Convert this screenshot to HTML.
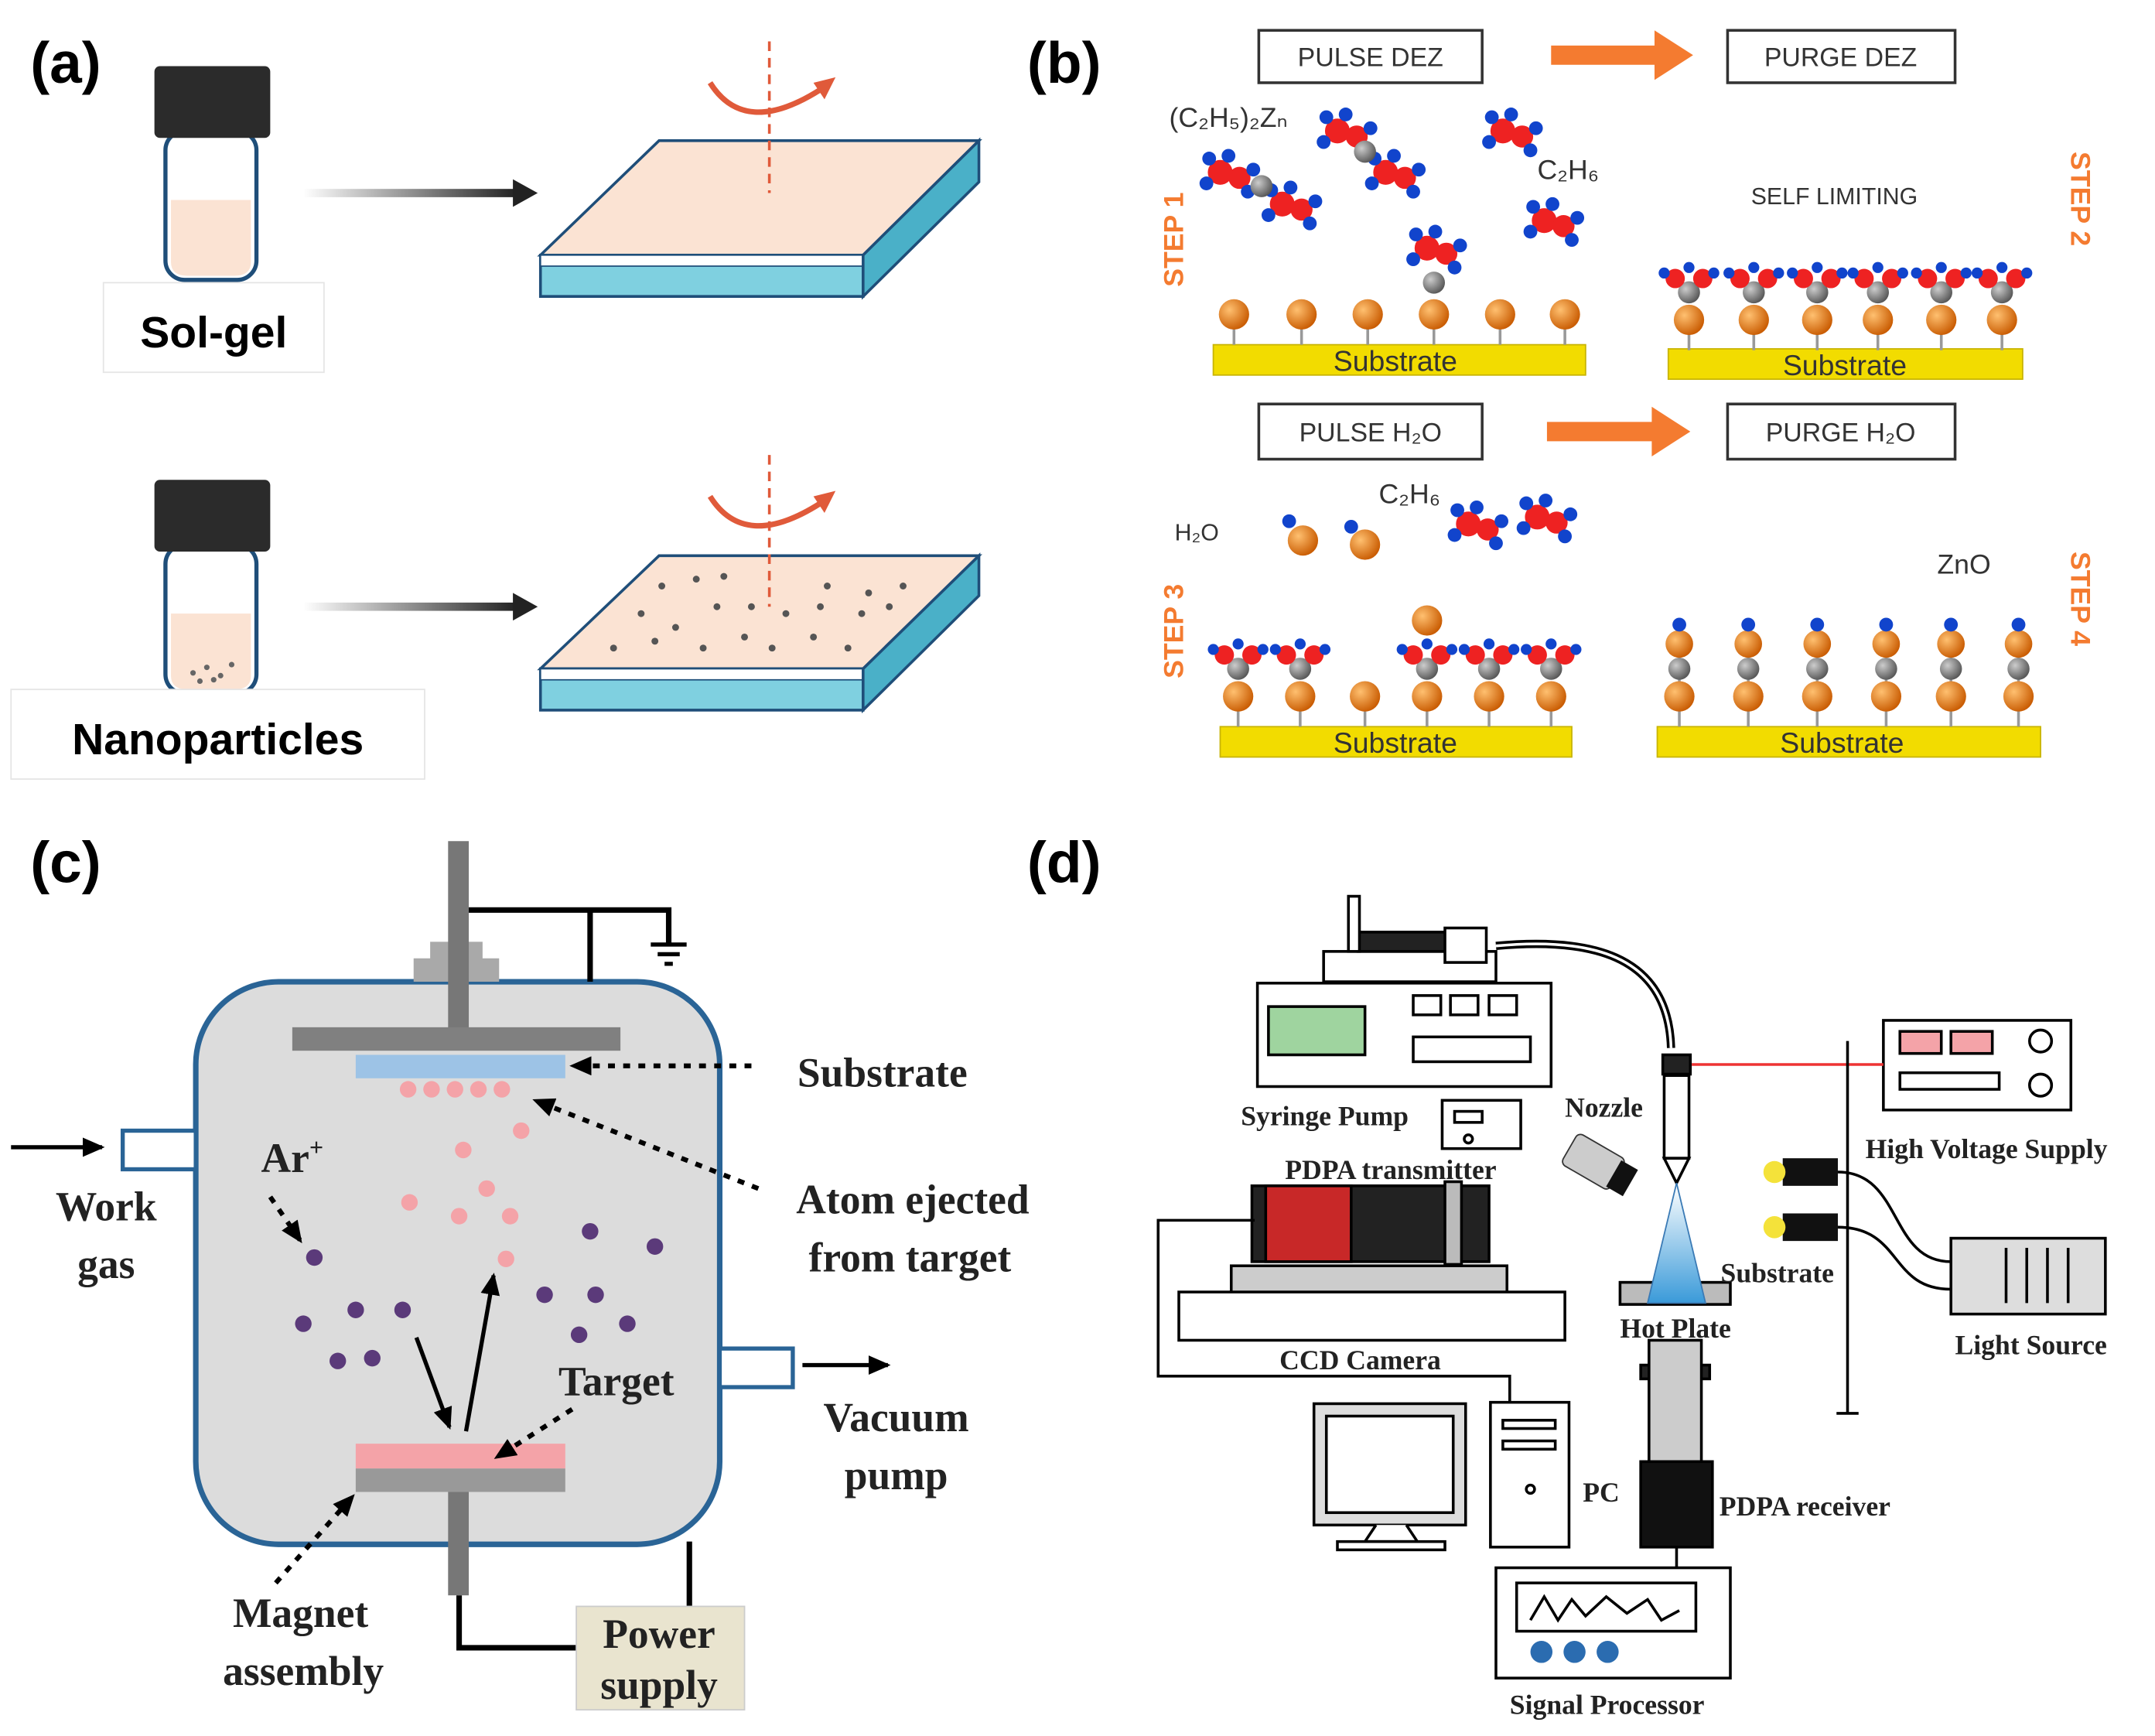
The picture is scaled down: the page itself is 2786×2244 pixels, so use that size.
<!DOCTYPE html>
<html><head><meta charset="utf-8"><style>html,body{margin:0;padding:0;background:#fff}svg{display:block}</style></head><body>
<svg width="2786" height="2244" viewBox="0 0 1563 1259" preserveAspectRatio="none" xmlns="http://www.w3.org/2000/svg">
<defs>
<linearGradient id="ga" x1="0" x2="1"><stop offset="0" stop-color="#fff"/><stop offset="1" stop-color="#222"/></linearGradient>
<radialGradient id="or" cx="0.35" cy="0.35" r="0.7"><stop offset="0" stop-color="#ffc070"/><stop offset="1" stop-color="#c85a00"/></radialGradient>
<radialGradient id="gr" cx="0.35" cy="0.35" r="0.7"><stop offset="0" stop-color="#ccc"/><stop offset="1" stop-color="#555"/></radialGradient>
<linearGradient id="cone" x1="0" x2="0" y1="0" y2="1"><stop offset="0" stop-color="#fff"/><stop offset="1" stop-color="#3a9ad9"/></linearGradient>
<marker id="ah" markerUnits="userSpaceOnUse" markerWidth="16" markerHeight="14" refX="14" refY="7" orient="auto"><path d="M0,0 L16,7 L0,14z" fill="#000"/></marker>
<g id="ball"><line x1="0" y1="0" x2="0" y2="22" stroke="#999" stroke-width="2"/><circle r="11" fill="url(#or)"/></g>
<g id="stack"><line x1="0" y1="-40" x2="0" y2="22" stroke="#999" stroke-width="2"/><circle cy="0" r="11" fill="url(#or)"/><circle cy="-20" r="8" fill="url(#gr)"/><circle cy="-38" r="10" fill="url(#or)"/><circle cy="-52" r="5" fill="#1144cc"/></g>
<g id="surf"><line x1="0" y1="0" x2="0" y2="22" stroke="#999" stroke-width="2"/><circle r="11" fill="url(#or)"/><circle cy="-20" r="8" fill="url(#gr)"/><circle cx="-10" cy="-30" r="7" fill="#e22"/><circle cx="10" cy="-30" r="7" fill="#e22"/><circle cx="-18" cy="-34" r="4" fill="#1144cc"/><circle cx="18" cy="-34" r="4" fill="#1144cc"/><circle cx="0" cy="-38" r="4" fill="#1144cc"/></g>
<g id="mol"><circle r="9" fill="#e22"/><circle cx="14" cy="4" r="8" fill="#e22"/><circle cx="-8" cy="-10" r="5" fill="#1144cc"/><circle cx="6" cy="-12" r="5" fill="#1144cc"/><circle cx="24" cy="-2" r="5" fill="#1144cc"/><circle cx="20" cy="14" r="5" fill="#1144cc"/><circle cx="-10" cy="8" r="5" fill="#1144cc"/></g>
</defs>
<g font-family="Liberation Sans, sans-serif">
<!-- (a) -->
<text x="22" y="60" font-size="42" font-weight="bold">(a)</text>
<g id="vial">
<rect x="120" y="95" width="66" height="108" rx="14" fill="#fff" stroke="#1f4e79" stroke-width="3"/>
<path d="M124,145 H182 V190 Q182,200 170,200 H136 Q124,200 124,190z" fill="#fbe3d3"/>
<rect x="112" y="48" width="84" height="52" rx="4" fill="#2b2b2b"/>
</g>
<rect x="75" y="205" width="160" height="65" fill="#fff" stroke="#e5e5e5"/>
<text x="155" y="252" font-size="32" font-weight="bold" text-anchor="middle">Sol-gel</text>
<rect x="220" y="137" width="155" height="6" fill="url(#ga)"/><path d="M372,130 L390,140 L372,150z" fill="#222"/>
<path d="M392,185 L478,102 L710,102 L626,185z" fill="#fbe3d3" stroke="#1f4e79" stroke-width="2"/>
<path d="M392,185 L626,185 L626,215 L392,215z" fill="#7fd0e0" stroke="#1f4e79" stroke-width="2"/>
<path d="M392,185 L626,185 L626,193 L392,193z" fill="#fff" stroke="#1f4e79" stroke-width="1"/>
<path d="M626,185 L710,102 L710,132 L626,215z" fill="#4ab0c8" stroke="#1f4e79" stroke-width="2"/>
<line x1="558" y1="30" x2="558" y2="140" stroke="#e05a3a" stroke-width="2" stroke-dasharray="7,5"/>
<path d="M515,60 Q540,100 595,65" fill="none" stroke="#e05a3a" stroke-width="4"/><path d="M590,60 L606,56 L598,72z" fill="#e05a3a"/>

<g transform="translate(0,300)"><use href="#vial"/></g>
<g fill="#666"><circle cx="140" cy="488" r="2"/><circle cx="150" cy="484" r="2"/><circle cx="160" cy="490" r="2"/><circle cx="168" cy="482" r="2"/><circle cx="145" cy="494" r="2"/><circle cx="155" cy="493" r="2"/></g>
<rect x="8" y="500" width="300" height="65" fill="#fff" stroke="#e5e5e5"/>
<text x="158" y="547" font-size="32" font-weight="bold" text-anchor="middle">Nanoparticles</text>
<rect x="220" y="437" width="155" height="6" fill="url(#ga)"/><path d="M372,430 L390,440 L372,450z" fill="#222"/>
<path d="M392,485 L478,403 L710,403 L626,485z" fill="#fbe3d3" stroke="#1f4e79" stroke-width="2"/>
<path d="M392,485 L626,485 L626,515 L392,515z" fill="#7fd0e0" stroke="#1f4e79" stroke-width="2"/>
<path d="M392,485 L626,485 L626,493 L392,493z" fill="#fff" stroke="#1f4e79" stroke-width="1"/>
<path d="M626,485 L710,403 L710,432 L626,515z" fill="#4ab0c8" stroke="#1f4e79" stroke-width="2"/>
<g fill="#555"><circle cx="480" cy="425" r="2.5"/><circle cx="505" cy="420" r="2.5"/><circle cx="525" cy="418" r="2.5"/><circle cx="600" cy="425" r="2.5"/><circle cx="630" cy="430" r="2.5"/><circle cx="465" cy="445" r="2.5"/><circle cx="490" cy="455" r="2.5"/><circle cx="520" cy="440" r="2.5"/><circle cx="545" cy="440" r="2.5"/><circle cx="570" cy="445" r="2.5"/><circle cx="595" cy="440" r="2.5"/><circle cx="625" cy="445" r="2.5"/><circle cx="445" cy="470" r="2.5"/><circle cx="475" cy="465" r="2.5"/><circle cx="510" cy="470" r="2.5"/><circle cx="540" cy="462" r="2.5"/><circle cx="560" cy="470" r="2.5"/><circle cx="590" cy="462" r="2.5"/><circle cx="615" cy="470" r="2.5"/><circle cx="645" cy="440" r="2.5"/><circle cx="655" cy="425" r="2.5"/></g>
<line x1="558" y1="330" x2="558" y2="440" stroke="#e05a3a" stroke-width="2" stroke-dasharray="7,5"/>
<path d="M515,360 Q540,400 595,365" fill="none" stroke="#e05a3a" stroke-width="4"/><path d="M590,360 L606,356 L598,372z" fill="#e05a3a"/>

<!-- (b) -->
<text x="745" y="60" font-size="42" font-weight="bold">(b)</text>
<g font-size="19" text-anchor="middle" fill="#333">
<rect x="913" y="22" width="162" height="38" fill="#fff" stroke="#333" stroke-width="2"/><text x="994" y="48">PULSE DEZ</text>
<rect x="1253" y="22" width="165" height="38" fill="#fff" stroke="#333" stroke-width="2"/><text x="1335" y="48">PURGE DEZ</text>
<rect x="913" y="293" width="162" height="40" fill="#fff" stroke="#333" stroke-width="2"/><text x="994" y="320">PULSE H₂O</text>
<rect x="1253" y="293" width="165" height="40" fill="#fff" stroke="#333" stroke-width="2"/><text x="1335" y="320">PURGE H₂O</text>
</g>
<path d="M1125,33 H1200 V22 L1228,40 L1200,58 V47 H1125z" fill="#f47b30"/>
<path d="M1122,306 H1198 V295 L1226,313 L1198,331 V320 H1122z" fill="#f47b30"/>
<g font-size="20" fill="#f47b30" font-weight="bold">
<text transform="translate(858,208) rotate(-90)">STEP 1</text>
<text transform="translate(1502,110) rotate(90)">STEP 2</text>
<text transform="translate(858,492) rotate(-90)">STEP 3</text>
<text transform="translate(1502,400) rotate(90)">STEP 4</text>
</g>
<rect x="880" y="250" width="270" height="22" fill="#f2dc00" stroke="#c8b400"/><text x="1012" y="269" font-size="21" text-anchor="middle" fill="#333">Substrate</text>
<rect x="1210" y="253" width="257" height="22" fill="#f2dc00" stroke="#c8b400"/><text x="1338" y="272" font-size="21" text-anchor="middle" fill="#333">Substrate</text>
<rect x="885" y="527" width="255" height="22" fill="#f2dc00" stroke="#c8b400"/><text x="1012" y="546" font-size="21" text-anchor="middle" fill="#333">Substrate</text>
<rect x="1202" y="527" width="278" height="22" fill="#f2dc00" stroke="#c8b400"/><text x="1336" y="546" font-size="21" text-anchor="middle" fill="#333">Substrate</text>
<g transform="translate(0,228)"><use href="#ball" x="895"/><use href="#ball" x="944"/><use href="#ball" x="992"/><use href="#ball" x="1040"/><use href="#ball" x="1088"/><use href="#ball" x="1135"/></g>
<g transform="translate(0,232)"><use href="#surf" x="1225"/><use href="#surf" x="1272"/><use href="#surf" x="1318"/><use href="#surf" x="1362"/><use href="#surf" x="1408"/><use href="#surf" x="1452"/></g>
<g transform="translate(0,505)"><use href="#surf" x="898"/><use href="#surf" x="943"/><use href="#ball" x="990"/><use href="#surf" x="1035"/><use href="#surf" x="1080"/><use href="#surf" x="1125"/></g>
<g transform="translate(0,505)"><use href="#stack" x="1218"/><use href="#stack" x="1268"/><use href="#stack" x="1318"/><use href="#stack" x="1368"/><use href="#stack" x="1415"/><use href="#stack" x="1464"/></g>
<use href="#mol" x="885" y="125"/><use href="#mol" x="930" y="148"/><use href="#mol" x="970" y="95"/><use href="#mol" x="1005" y="125"/><use href="#mol" x="1090" y="95"/><use href="#mol" x="1120" y="160"/><use href="#mol" x="1035" y="180"/>
<circle cx="915" cy="135" r="8" fill="url(#gr)"/><circle cx="990" cy="110" r="8" fill="url(#gr)"/><circle cx="1040" cy="205" r="8" fill="url(#gr)"/>
<use href="#mol" x="1065" y="380"/><use href="#mol" x="1115" y="375"/>
<circle cx="945" cy="392" r="11" fill="url(#or)"/><circle cx="935" cy="378" r="5" fill="#1144cc"/><circle cx="990" cy="395" r="11" fill="url(#or)"/><circle cx="980" cy="382" r="5" fill="#1144cc"/><circle cx="1035" cy="450" r="11" fill="url(#or)"/>
<g font-size="20" fill="#333"><text x="848" y="92">(C₂H₅)₂Zₙ</text><text x="1115" y="130">C₂H₆</text><text x="1270" y="148" font-size="17">SELF LIMITING</text><text x="852" y="392" font-size="17">H₂O</text><text x="1000" y="365">C₂H₆</text><text x="1405" y="416">ZnO</text></g>

<!-- (c) -->
<text x="22" y="640" font-size="42" font-weight="bold">(c)</text>
<rect x="142" y="712" width="380" height="408" rx="60" fill="#dcdcdc" stroke="#2a6496" stroke-width="4"/>
<path d="M300,712 V695 H312 V683 H350 V695 H362 V712z" fill="#a9a9a9"/>
<rect x="325" y="610" width="15" height="140" fill="#777"/>
<rect x="212" y="745" width="238" height="17" fill="#808080"/>
<rect x="258" y="765" width="152" height="17" fill="#9dc3e6"/>
<path d="M340,660 H485 V685 M428,660 V712" fill="none" stroke="#000" stroke-width="4"/>
<path d="M472,685 H498 M477,692 H493 M482,699 H488" stroke="#000" stroke-width="3"/>
<rect x="258" y="1047" width="152" height="18" fill="#f4a3a8"/>
<rect x="258" y="1065" width="152" height="17" fill="#999"/>
<rect x="325" y="1082" width="15" height="75" fill="#777"/>
<path d="M333,1157 V1195 H418 M540,1195 H500 V1118" fill="none" stroke="#000" stroke-width="4"/>
<rect x="418" y="1165" width="122" height="75" fill="#e9e4cf" stroke="#ccc"/>
<rect x="89" y="820" width="53" height="28" fill="#fff" stroke="#2a6496" stroke-width="3"/>
<rect x="522" y="978" width="53" height="28" fill="#fff" stroke="#2a6496" stroke-width="3"/>
<line x1="8" y1="832" x2="74" y2="832" stroke="#000" stroke-width="3" marker-end="url(#ah)"/>
<line x1="582" y1="990" x2="644" y2="990" stroke="#000" stroke-width="3" marker-end="url(#ah)"/>
<g fill="#f4a3a8"><circle cx="296" cy="790" r="6"/><circle cx="313" cy="790" r="6"/><circle cx="330" cy="790" r="6"/><circle cx="347" cy="790" r="6"/><circle cx="364" cy="790" r="6"/><circle cx="336" cy="834" r="6"/><circle cx="378" cy="820" r="6"/><circle cx="353" cy="862" r="6"/><circle cx="297" cy="872" r="6"/><circle cx="333" cy="882" r="6"/><circle cx="370" cy="882" r="6"/><circle cx="367" cy="913" r="6"/></g>
<g fill="#5b3a7a"><circle cx="228" cy="912" r="6"/><circle cx="428" cy="893" r="6"/><circle cx="475" cy="904" r="6"/><circle cx="395" cy="939" r="6"/><circle cx="432" cy="939" r="6"/><circle cx="220" cy="960" r="6"/><circle cx="258" cy="950" r="6"/><circle cx="292" cy="950" r="6"/><circle cx="455" cy="960" r="6"/><circle cx="420" cy="968" r="6"/><circle cx="245" cy="987" r="6"/><circle cx="270" cy="985" r="6"/></g>
<g stroke="#000" stroke-width="3" fill="none">
<line x1="302" y1="970" x2="326" y2="1035" marker-end="url(#ah)"/><line x1="338" y1="1038" x2="358" y2="925" marker-end="url(#ah)"/>
</g>
<g stroke="#000" stroke-width="3.5" stroke-dasharray="5,6" fill="none">
<line x1="545" y1="773" x2="415" y2="773" marker-end="url(#ah)"/>
<line x1="550" y1="862" x2="388" y2="798" marker-end="url(#ah)"/>
<line x1="196" y1="868" x2="218" y2="900" marker-end="url(#ah)"/>
<line x1="415" y1="1022" x2="360" y2="1057" marker-end="url(#ah)"/>
<line x1="200" y1="1148" x2="256" y2="1085" marker-end="url(#ah)"/>
</g>
<g font-family="Liberation Serif, serif" font-weight="bold" font-size="30" fill="#222" text-anchor="middle">
<text x="640" y="788">Substrate</text>
<text x="662" y="880">Atom ejected</text><text x="660" y="922">from target</text>
<text x="212" y="850">Ar<tspan font-size="18" dy="-12">+</tspan></text>
<text x="77" y="885">Work</text><text x="77" y="927">gas</text>
<text x="447" y="1012">Target</text>
<text x="650" y="1038">Vacuum</text><text x="650" y="1080">pump</text>
<text x="218" y="1180">Magnet</text><text x="220" y="1222">assembly</text>
<text x="478" y="1195">Power</text><text x="478" y="1232">supply</text>
</g>

<!-- (d) -->
<text x="745" y="640" font-size="42" font-weight="bold">(d)</text>
<g stroke="#000" stroke-width="2" fill="#fff">
<rect x="912" y="713" width="213" height="75"/>
<rect x="920" y="730" width="70" height="35" fill="#9fd49f"/>
<rect x="1025" y="722" width="20" height="14"/><rect x="1052" y="722" width="20" height="14"/><rect x="1080" y="722" width="20" height="14"/>
<rect x="1025" y="752" width="85" height="18"/>
<rect x="960" y="690" width="125" height="22"/><rect x="985" y="676" width="80" height="14" fill="#222"/><rect x="978" y="650" width="8" height="40"/>
<rect x="1048" y="673" width="30" height="25"/>
<path d="M1085,686 C1150,680 1210,690 1212,760" fill="none" stroke-width="6"/><path d="M1085,686 C1150,680 1210,690 1212,760" fill="none" stroke="#fff" stroke-width="2"/>
<rect x="1206" y="765" width="20" height="14" fill="#222"/>
<rect x="1207" y="780" width="18" height="60"/><path d="M1207,840 L1216,858 L1225,840z"/>
<rect x="1366" y="740" width="136" height="65"/>
<rect x="1378" y="748" width="30" height="16" fill="#f4a3a8"/><rect x="1415" y="748" width="30" height="16" fill="#f4a3a8"/><circle cx="1480" cy="755" r="8"/><circle cx="1480" cy="787" r="8"/>
<rect x="1378" y="778" width="72" height="12"/>
<rect x="1046" y="798" width="57" height="35"/><rect x="1055" y="806" width="20" height="8"/><circle cx="1065" cy="826" r="3"/>
<rect x="908" y="860" width="172" height="55" fill="#222"/><rect x="918" y="860" width="62" height="55" fill="#c82828"/><rect x="1048" y="857" width="12" height="60" fill="#bbb"/>
<rect x="893" y="918" width="200" height="25" fill="#ccc"/>
<rect x="855" y="937" width="280" height="35"/>
<rect x="1175" y="930" width="80" height="16" fill="#bbb"/>
<rect x="1415" y="898" width="112" height="55" fill="#ddd"/>
<rect x="1190" y="990" width="50" height="10" fill="#222"/><rect x="1196" y="972" width="38" height="110" fill="#ccc"/><rect x="1190" y="1060" width="52" height="62" fill="#111"/>
<rect x="953" y="1018" width="110" height="88" fill="#ddd"/><rect x="962" y="1027" width="92" height="70"/><path d="M998,1106 L990,1118 H1028 L1020,1106" /><rect x="970" y="1118" width="78" height="6"/>
<rect x="1081" y="1017" width="57" height="105"/><rect x="1090" y="1030" width="38" height="6"/><rect x="1090" y="1045" width="38" height="6"/><circle cx="1110" cy="1080" r="3"/>
<rect x="1085" y="1137" width="170" height="80"/><rect x="1100" y="1148" width="130" height="35"/>
<path d="M1110,1175 L1120,1158 L1130,1175 L1140,1160 L1150,1172 L1165,1158 L1180,1170 L1195,1160 L1205,1175 L1218,1168"/>
</g>
<path d="M1195,945 L1216,858 L1237,945z" fill="url(#cone)" stroke="#3a7ab5"/>
<line x1="1227" y1="772" x2="1366" y2="772" stroke="#e33" stroke-width="2"/>
<g fill="#111" transform="rotate(30 1160 845)"><rect x="1135" y="832" width="40" height="26" rx="4" fill="#ccc" stroke="#333"/><rect x="1172" y="834" width="14" height="22" fill="#111"/></g>
<g fill="#111"><rect x="1293" y="840" width="40" height="20"/><rect x="1293" y="880" width="40" height="20"/></g>
<circle cx="1287" cy="850" r="8" fill="#f4e23a"/><circle cx="1287" cy="890" r="8" fill="#f4e23a"/>
<g fill="none" stroke="#000" stroke-width="2">
<path d="M1333,850 C1380,850 1370,915 1415,915"/><path d="M1333,890 C1380,890 1370,935 1415,935"/>
<path d="M1455,905 V945 M1470,905 V945 M1485,905 V945 M1500,905 V945"/>
<path d="M1340,755 V1025 M1332,1025 H1348"/>
<path d="M910,885 H840 V998 H1095 V1017"/>
<path d="M1216,1122 V1137"/>
</g>
<g font-family="Liberation Serif, serif" font-weight="bold" font-size="20" fill="#222">
<text x="900" y="816">Syringe Pump</text><text x="1135" y="810">Nozzle</text>
<text x="932" y="855">PDPA transmitter</text><text x="1353" y="840">High Voltage Supply</text>
<text x="1248" y="930">Substrate</text><text x="1175" y="970">Hot Plate</text>
<text x="1418" y="982">Light Source</text><text x="928" y="993">CCD Camera</text>
<text x="1148" y="1089">PC</text><text x="1247" y="1099">PDPA receiver</text>
<text x="1095" y="1243">Signal Processor</text>
</g>
<g fill="#2b6cb0"><circle cx="1118" cy="1198" r="8"/><circle cx="1142" cy="1198" r="8"/><circle cx="1166" cy="1198" r="8"/></g>
</g>
</svg>
</body></html>
